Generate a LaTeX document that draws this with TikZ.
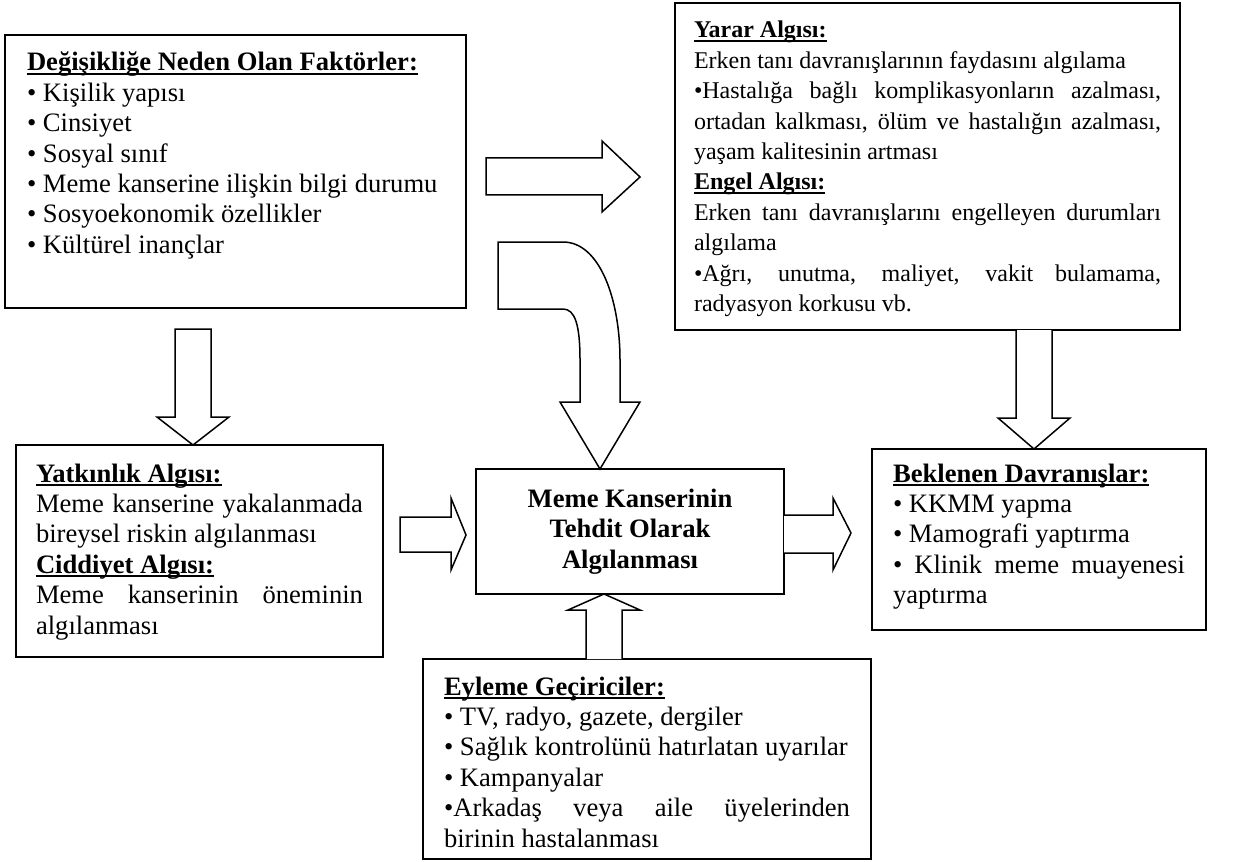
\documentclass[tikz,border=0pt]{standalone}
\usepackage{fontspec}
\setmainfont{Liberation Serif}
\usetikzlibrary{calc}
\hyphenpenalty=10000
\exhyphenpenalty=10000
\tolerance=10000
\newsavebox\ulbox
\newcommand\ulx[1]{\leavevmode\sbox\ulbox{#1}\rlap{\rule[-2pt]{\wd\ulbox}{1pt}}\usebox\ulbox}
\newcommand\bx[4]{\parbox[t][#2][t]{#1}{\rule{0pt}{#3}#4}}
\newcommand\fsbig{\fontsize{13.3pt}{15.2pt}\selectfont}
\newcommand\fssmall{\fontsize{12pt}{15.2pt}\selectfont}
\begin{document}
\begin{tikzpicture}[x=0.5pt,y=-0.5pt,
  box/.style={draw, line width=1pt, anchor=north west, inner ysep=0pt, outer sep=0pt, font=\fsbig},
  barrow/.style={draw, line width=0.75pt, line join=miter, fill=white}]
\useasboundingbox (0,0) rectangle (1246,861);

\node[box, inner xsep=11pt] (fak) at (5,35) {\bx{208.5pt}{136.5pt}{18pt}{%
\ulx{\textbf{Değişikliğe Neden Olan Faktörler:}}\par
• Kişilik yapısı\par
• Cinsiyet\par
• Sosyal sınıf\par
• Meme kanserine ilişkin bilgi durumu\par
• Sosyoekonomik özellikler\par
• Kültürel inançlar}};

\node[box, inner xsep=9.5pt, font=\fssmall] (yarar) at (675,3) {\bx{233.5pt}{163.5pt}{17.5pt}{%
\ulx{\textbf{Yarar Algısı:}}\par
Erken tanı davranışlarının faydasını algılama\par
•Hastalığa bağlı komplikasyonların azalması,\linebreak ortadan kalkması, ölüm ve hastalığın azalması,\linebreak yaşam kalitesinin artması\par
\ulx{\textbf{Engel Algısı:}}\par
Erken tanı davranışlarını engelleyen durumları\linebreak algılama\par
•Ağrı, unutma, maliyet, vakit bulamama,\linebreak radyasyon korkusu vb.}};

\node[box, inner xsep=10pt] (yat) at (16,445) {\bx{163.5pt}{106pt}{18.5pt}{%
\ulx{\textbf{Yatkınlık Algısı:}}\par
Meme kanserine yakalanmada\linebreak bireysel riskin algılanması\par
\ulx{\textbf{Ciddiyet Algısı:}}\par
Meme kanserinin öneminin\linebreak algılanması}};

\node[box, inner xsep=2pt, minimum height=62.5pt, font=\fsbig\bfseries] (mid) at (476,469)
  {\parbox{150pt}{\centering Meme Kanserinin\\Tehdit Olarak\\Algılanması}};

\node[box, inner xsep=10.5pt] (eyl) at (423,659) {\bx{203pt}{100pt}{18pt}{%
\ulx{\textbf{Eyleme Geçiriciler:}}\par
• TV, radyo, gazete, dergiler\par
• Sağlık kontrolünü hatırlatan uyarılar\par
• Kampanyalar\par
•Arkadaş veya aile üyelerinden\linebreak birinin hastalanması}};

\node[box, inner xsep=10.5pt] (bek) at (872,449) {\bx{146pt}{90.5pt}{16.5pt}{%
\ulx{\textbf{Beklenen Davranışlar:}}\par
• KKMM yapma\par
• Mamografi yaptırma\par
• Klinik meme muayenesi\linebreak yaptırma}};

\coordinate (t1) at ($(yat.north west)+(177,0)$);
\coordinate (t2) at ($(yarar.north west)+(-35,174)$);
\coordinate (t3) at ($(mid.north west)+(124,0)$);
\coordinate (t4) at ($(mid.north west)+(-10,66)$);
\coordinate (t5) at ($(bek.north west)+(-21,84)$);
\coordinate (t6) at ($(mid.south west)+(128,0)$);
\coordinate (t7) at ($(bek.north west)+(162,0)$);

% factors -> susceptibility
\begin{scope}[shift={(t1)}]
\draw[barrow] (0,0) -- (-36,-28) -- (-18,-28) -- (-18,-116) -- (18,-116) -- (18,-28) -- (36,-28) -- cycle;
\end{scope}
% factors -> benefit/barrier
\begin{scope}[shift={(t2)}]
\draw[barrow] (0,0) -- (-38,-36) -- (-38,-19) -- (-154,-19) -- (-154,18) -- (-38,18) -- (-38,35) -- cycle;
\end{scope}
% curved arrow -> threat
\begin{scope}[shift={(t3)}]
\draw[barrow] (0,0) -- (40,-67) -- (20,-67) -- (20,-109) .. controls (20,-169) and (0,-227) .. (-37,-227)
  -- (-102,-227) -- (-102,-160) -- (-37,-160) .. controls (-25,-160) and (-20,-144) .. (-20,-109)
  -- (-20,-67) -- (-40,-67) -- cycle;
\end{scope}
% susceptibility -> threat
\begin{scope}[shift={(t4)}]
\draw[barrow] (0,0) -- (-15,35) -- (-15,17) -- (-66,17) -- (-66,-18) -- (-15,-18) -- (-15,-37) -- cycle;
\end{scope}
% threat -> expected behaviours
\begin{scope}[shift={(t5)}]
\draw[barrow] (-67,-18) -- (-18,-18) -- (-18,-35) -- (0,0) -- (-18,37) -- (-18,20) -- (-67,20);
\end{scope}
% cues -> threat
\begin{scope}[shift={(t6)}]
\draw[barrow] (-18,65) -- (-18,16) -- (-36,16) -- (0,0) -- (36,16) -- (18,16) -- (18,65);
\end{scope}
% benefit/barrier -> expected behaviours
\begin{scope}[shift={(t7)}]
\draw[barrow] (-18,-119) -- (-18,-31) -- (-36,-31) -- (0,0) -- (36,-31) -- (18,-31) -- (18,-119);
\end{scope}
\end{tikzpicture}
\end{document}
